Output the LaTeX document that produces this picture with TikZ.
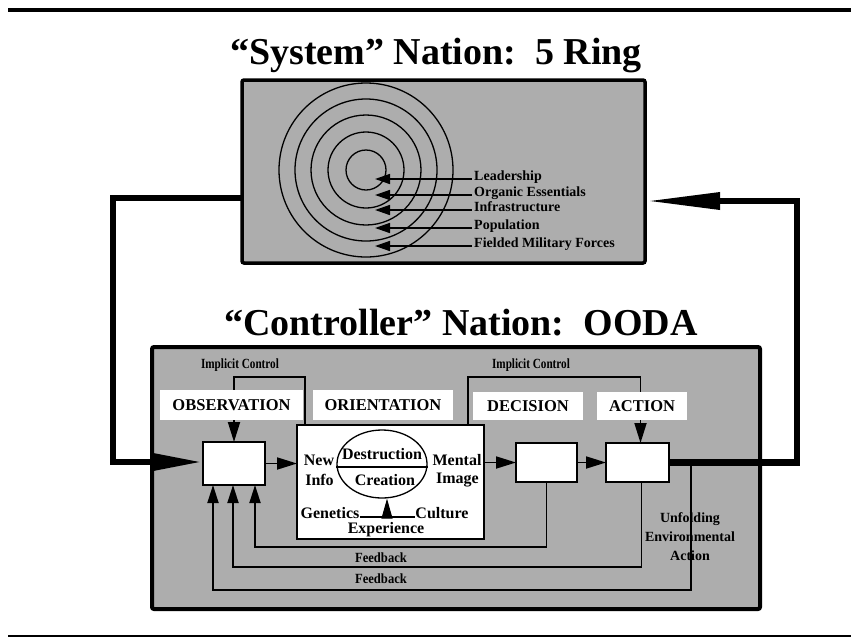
\documentclass[tikz,border=0pt]{standalone}
\usepackage{fontspec}
\setmainfont{Liberation Serif}
\usetikzlibrary{arrows.meta,shapes.geometric}
\definecolor{halftone}{gray}{0.68}
\tikzset{
  panel/.style={draw, line width=3.5pt, fill=halftone, rounded corners=2pt, inner sep=0pt, outer sep=0pt},
  whitebox/.style={draw, line width=1.6pt, fill=white, inner sep=0pt, outer sep=0pt},
  tag/.style={fill=white, inner sep=0pt, font=\fontsize{16.5}{18}\selectfont\bfseries},
  heading/.style={font=\fontsize{38}{40}\selectfont\bfseries, inner sep=0pt},
  txt/.style={font=\fontsize{16}{18}\selectfont\bfseries, inner sep=0pt},
  small/.style={font=\fontsize{14}{19}\selectfont\bfseries, inner sep=0pt},
  wire/.style={line width=1.8pt},
  heavy/.style={line width=6.5pt},
  flowtip/.style={-{Triangle[length=20pt,width=12pt]}},
  droptip/.style={-{Triangle[length=20pt,width=12pt]}},
  uptip/.style={-{Triangle[length=18pt,width=11pt]}},
  ringtip/.style={-{Triangle[length=15pt,width=10pt]}},
}
\begin{document}
\begin{tikzpicture}[x=1pt,y=-1pt]
\useasboundingbox (0,0) rectangle (851,638);

% page rules
\draw[line width=4pt] (8,10) -- (851,10);
\draw[line width=2.5pt] (8,636) -- (851,636);

% headings
\node[heading, anchor=base] (t1) at (436,64) {“System” Nation:\ \ 5 Ring};
\node[heading, anchor=base] (t2) at (461,335) {“Controller” Nation:\ \ OODA};

% ---- five ring system ----
\node[panel, minimum width=403pt, minimum height=183pt] (sys) at (443.5,171.5) {};
\coordinate (core) at (366,170);
\foreach \r in {20,38,55,71,87}
  \draw[line width=1.3pt] (core) circle[radius=\r pt];
\foreach \yy/\lbl [count=\i] in {179/Leadership, 195/Organic Essentials, 210/Infrastructure, 228/Population, 246/Fielded Military Forces}{
  \node[small, anchor=base west] (ring\i) at (474,\yy+1) {\lbl};
  \coordinate (tip\i) at (375,\yy);
  \draw[line width=1.5pt, ringtip] (ring\i.base west) ++(-2,-1) -- (tip\i);
}

% ---- OODA controller ----
\node[panel, line width=4pt, minimum width=608pt, minimum height=262pt] (ctrl) at (456,478) {};

\node[whitebox, minimum width=62pt, minimum height=43pt] (obs) at (234,463.5) {};
\node[whitebox, minimum width=187pt, minimum height=114pt] (ori) at (390.5,482) {};
\node[whitebox, minimum width=61pt, minimum height=39pt] (dec) at (546.5,462.5) {};
\node[whitebox, minimum width=63pt, minimum height=39pt] (act) at (637.5,462.5) {};

% implicit control loops
\draw[wire, droptip] ([xshift=8pt]ori.north west) -- ++(0,-48) -| (obs.north);
\draw[wire, droptip] ([xshift=-16pt]ori.north east) -- ++(0,-48) -| ([xshift=3pt]act.north);
\node[small] (icl1) at (240,365) {\scalebox{0.8}[1]{Implicit Control}};
\node[small] (icl2) at (531,365) {\scalebox{0.8}[1]{Implicit Control}};

% stage labels
\node[tag, minimum width=143pt, minimum height=30pt] (obsl) at (231.5,405) {OBSERVATION};
\node[tag, minimum width=140pt, minimum height=30pt] (oril) at (383,405) {ORIENTATION};
\node[tag, minimum width=110pt, minimum height=28pt] (decl) at (528,406) {DECISION};
\node[tag, minimum width=90pt, minimum height=28pt] (actl) at (642,406) {ACTION};

% main flow
\draw[wire, flowtip] (obs.east) -- (obs.east -| ori.west);
\draw[wire, flowtip] (ori.east |- dec.west) -- (dec.west);
\draw[wire, flowtip] (dec.east) -- (act.west);

% orientation contents
\node[draw, ellipse, line width=1.3pt, minimum width=90pt, minimum height=68pt, inner sep=0pt] (ell) at (382,464) {};
\draw[line width=2pt] ([yshift=-3pt]ell.west) -- ([yshift=-3pt]ell.east);
\node[txt] (destr) at (382,454) {Destruction};
\node[txt] (creat) at (385,480) {Creation};
\node[txt] (newl) at (319,460) {New};
\node[txt] (info) at (319.5,480) {Info};
\node[txt] (ment) at (457,460) {Mental};
\node[txt] (imag) at (457.5,480) {Image};
\node[txt] (gen) at (330,513) {Genetics};
\node[txt] (cult) at (442,513) {Culture};
\node[txt] (expr) at (386,530) {Experience};
\draw[line width=2pt] ([yshift=-4pt]gen.east) -- ([yshift=-4pt]cult.west);
\coordinate (expbase) at (387,517);
\draw[line width=1pt, -{Triangle[length=20pt,width=11pt]}] (expbase) -- (expbase |- ell.south);

% feedback loops
\coordinate (fb1) at (0,547);
\coordinate (fb2) at (0,567);
\coordinate (fb3) at (0,590);
\coordinate (envtap) at (691,463);
\draw[wire, uptip] (dec.south) -- (dec.south |- fb1) -| ([xshift=52pt]obs.south west);
\draw[wire, uptip] ([xshift=4pt]act.south) -- ([xshift=4pt]act.south |- fb2) -| ([xshift=30pt]obs.south west);
\draw[wire, uptip] (envtap) -- (envtap |- fb3) -| ([xshift=10pt]obs.south west);
\node[small] (fbl1) at (381,558) {\scalebox{0.9}[1]{Feedback}};
\node[small] (fbl2) at (381,579) {\scalebox{0.9}[1]{Feedback}};
\node[small, align=center] (env) at (690,537) {Unfolding\\Environmental\\Action};

% links between the two nations
\coordinate (lcorner) at (113,198);
\coordinate (lcorner2) at (113,462);
\draw[heavy, -{Triangle[length=50pt,width=16pt]}] (sys.west |- lcorner) -- (lcorner) -- (lcorner2) -- (lcorner2 -| obs.west);
\coordinate (rcorner) at (797,463);
\coordinate (rcorner2) at (797,201);
\draw[heavy, -{Triangle[length=75pt,width=16pt]}] (act.east) -- (act.east -| rcorner) -- (rcorner2) -- (rcorner2 -| sys.east);
\end{tikzpicture}
\end{document}
